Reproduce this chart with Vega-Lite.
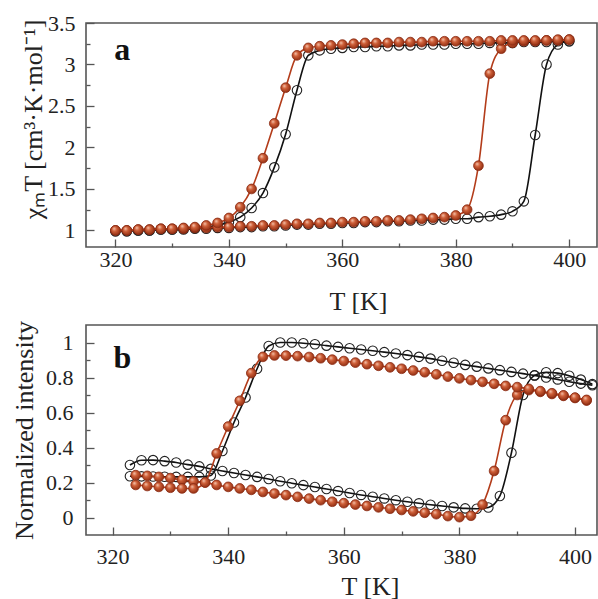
{
 "$schema": "https://vega.github.io/schema/vega-lite/v6.json",
 "padding": {"left": 10, "top": 11, "right": 0, "bottom": 0},
 "bounds": "flush",
 "spacing": 78,
 "background": "white",
 "config": {
  "view": {"stroke": "#555", "strokeWidth": 1.6},
  "axis": {"labelFont": "Liberation Serif", "titleFont": "Liberation Serif", "labelFontSize": 22, "titleFontSize": 26, "titleFontWeight": "normal", "labelColor": "#222", "titleColor": "#222", "domain": false, "grid": false, "tickColor": "#555", "tickWidth": 1.3, "labelFlush": false, "labelOverlap": false}
 },
 "datasets": {
  "a": [
   {"s":"k","b":"h","T":320,"v":0.99},{"s":"k","b":"h","T":322,"v":0.99},{"s":"k","b":"h","T":324,"v":1.0},{"s":"k","b":"h","T":326,"v":1.0},{"s":"k","b":"h","T":328,"v":1.01},{"s":"k","b":"h","T":330,"v":1.01},{"s":"k","b":"h","T":332,"v":1.01},{"s":"k","b":"h","T":334,"v":1.02},{"s":"k","b":"h","T":336,"v":1.02},{"s":"k","b":"h","T":338,"v":1.03},{"s":"k","b":"h","T":340,"v":1.03},{"s":"k","b":"h","T":342,"v":1.04},{"s":"k","b":"h","T":344,"v":1.04},{"s":"k","b":"h","T":346,"v":1.05},{"s":"k","b":"h","T":348,"v":1.05},{"s":"k","b":"h","T":350,"v":1.06},{"s":"k","b":"h","T":352,"v":1.07},{"s":"k","b":"h","T":354,"v":1.07},{"s":"k","b":"h","T":356,"v":1.08},{"s":"k","b":"h","T":358,"v":1.08},{"s":"k","b":"h","T":360,"v":1.09},{"s":"k","b":"h","T":362,"v":1.09},{"s":"k","b":"h","T":364,"v":1.1},{"s":"k","b":"h","T":366,"v":1.1},{"s":"k","b":"h","T":368,"v":1.11},{"s":"k","b":"h","T":370,"v":1.11},{"s":"k","b":"h","T":372,"v":1.12},{"s":"k","b":"h","T":374,"v":1.12},{"s":"k","b":"h","T":376,"v":1.13},{"s":"k","b":"h","T":378,"v":1.13},{"s":"k","b":"h","T":380,"v":1.14},{"s":"k","b":"h","T":382,"v":1.14},{"s":"k","b":"h","T":384,"v":1.16},{"s":"k","b":"h","T":386,"v":1.17},{"s":"k","b":"h","T":388,"v":1.19},{"s":"k","b":"h","T":390,"v":1.23},{"s":"k","b":"h","T":392,"v":1.35},{"s":"k","b":"h","T":394,"v":2.15},{"s":"k","b":"h","T":396,"v":3.0},{"s":"k","b":"h","T":398,"v":3.24},{"s":"k","b":"h","T":400,"v":3.28},
   {"s":"k","b":"c","T":400,"v":3.28},{"s":"k","b":"c","T":398,"v":3.28},{"s":"k","b":"c","T":396,"v":3.27},{"s":"k","b":"c","T":394,"v":3.27},{"s":"k","b":"c","T":392,"v":3.27},{"s":"k","b":"c","T":390,"v":3.26},{"s":"k","b":"c","T":388,"v":3.26},{"s":"k","b":"c","T":386,"v":3.26},{"s":"k","b":"c","T":384,"v":3.25},{"s":"k","b":"c","T":382,"v":3.25},{"s":"k","b":"c","T":380,"v":3.25},{"s":"k","b":"c","T":378,"v":3.24},{"s":"k","b":"c","T":376,"v":3.24},{"s":"k","b":"c","T":374,"v":3.24},{"s":"k","b":"c","T":372,"v":3.23},{"s":"k","b":"c","T":370,"v":3.23},{"s":"k","b":"c","T":368,"v":3.22},{"s":"k","b":"c","T":366,"v":3.22},{"s":"k","b":"c","T":364,"v":3.21},{"s":"k","b":"c","T":362,"v":3.21},{"s":"k","b":"c","T":360,"v":3.2},{"s":"k","b":"c","T":358,"v":3.19},{"s":"k","b":"c","T":356,"v":3.17},{"s":"k","b":"c","T":354,"v":3.11},{"s":"k","b":"c","T":352,"v":2.69},{"s":"k","b":"c","T":350,"v":2.16},{"s":"k","b":"c","T":348,"v":1.76},{"s":"k","b":"c","T":346,"v":1.45},{"s":"k","b":"c","T":344,"v":1.27},{"s":"k","b":"c","T":342,"v":1.16},{"s":"k","b":"c","T":340,"v":1.1},{"s":"k","b":"c","T":338,"v":1.06},{"s":"k","b":"c","T":336,"v":1.04},{"s":"k","b":"c","T":334,"v":1.03},{"s":"k","b":"c","T":332,"v":1.02},{"s":"k","b":"c","T":330,"v":1.01},{"s":"k","b":"c","T":328,"v":1.01},{"s":"k","b":"c","T":326,"v":1.0},{"s":"k","b":"c","T":324,"v":1.0},{"s":"k","b":"c","T":322,"v":0.99},{"s":"k","b":"c","T":320,"v":0.99},
   {"s":"r","b":"h","T":320,"v":1.0},{"s":"r","b":"h","T":322,"v":1.0},{"s":"r","b":"h","T":324,"v":1.01},{"s":"r","b":"h","T":326,"v":1.01},{"s":"r","b":"h","T":328,"v":1.02},{"s":"r","b":"h","T":330,"v":1.02},{"s":"r","b":"h","T":332,"v":1.02},{"s":"r","b":"h","T":334,"v":1.03},{"s":"r","b":"h","T":336,"v":1.03},{"s":"r","b":"h","T":338,"v":1.04},{"s":"r","b":"h","T":340,"v":1.04},{"s":"r","b":"h","T":342,"v":1.05},{"s":"r","b":"h","T":344,"v":1.05},{"s":"r","b":"h","T":346,"v":1.06},{"s":"r","b":"h","T":348,"v":1.06},{"s":"r","b":"h","T":350,"v":1.07},{"s":"r","b":"h","T":352,"v":1.08},{"s":"r","b":"h","T":354,"v":1.08},{"s":"r","b":"h","T":356,"v":1.09},{"s":"r","b":"h","T":358,"v":1.09},{"s":"r","b":"h","T":360,"v":1.1},{"s":"r","b":"h","T":362,"v":1.1},{"s":"r","b":"h","T":364,"v":1.11},{"s":"r","b":"h","T":366,"v":1.11},{"s":"r","b":"h","T":368,"v":1.12},{"s":"r","b":"h","T":370,"v":1.12},{"s":"r","b":"h","T":372,"v":1.13},{"s":"r","b":"h","T":374,"v":1.14},{"s":"r","b":"h","T":376,"v":1.15},{"s":"r","b":"h","T":378,"v":1.16},{"s":"r","b":"h","T":380,"v":1.18},{"s":"r","b":"h","T":382,"v":1.25},{"s":"r","b":"h","T":384,"v":1.78},{"s":"r","b":"h","T":386,"v":2.89},{"s":"r","b":"h","T":388,"v":3.19},{"s":"r","b":"h","T":390,"v":3.26},{"s":"r","b":"h","T":392,"v":3.28},{"s":"r","b":"h","T":394,"v":3.28},{"s":"r","b":"h","T":396,"v":3.29},{"s":"r","b":"h","T":398,"v":3.29},{"s":"r","b":"h","T":400,"v":3.3},
   {"s":"r","b":"c","T":400,"v":3.3},{"s":"r","b":"c","T":398,"v":3.3},{"s":"r","b":"c","T":396,"v":3.29},{"s":"r","b":"c","T":394,"v":3.29},{"s":"r","b":"c","T":392,"v":3.29},{"s":"r","b":"c","T":390,"v":3.29},{"s":"r","b":"c","T":388,"v":3.29},{"s":"r","b":"c","T":386,"v":3.28},{"s":"r","b":"c","T":384,"v":3.28},{"s":"r","b":"c","T":382,"v":3.28},{"s":"r","b":"c","T":380,"v":3.28},{"s":"r","b":"c","T":378,"v":3.28},{"s":"r","b":"c","T":376,"v":3.28},{"s":"r","b":"c","T":374,"v":3.27},{"s":"r","b":"c","T":372,"v":3.27},{"s":"r","b":"c","T":370,"v":3.27},{"s":"r","b":"c","T":368,"v":3.26},{"s":"r","b":"c","T":366,"v":3.26},{"s":"r","b":"c","T":364,"v":3.26},{"s":"r","b":"c","T":362,"v":3.25},{"s":"r","b":"c","T":360,"v":3.24},{"s":"r","b":"c","T":358,"v":3.23},{"s":"r","b":"c","T":356,"v":3.22},{"s":"r","b":"c","T":354,"v":3.2},{"s":"r","b":"c","T":352,"v":3.11},{"s":"r","b":"c","T":350,"v":2.72},{"s":"r","b":"c","T":348,"v":2.29},{"s":"r","b":"c","T":346,"v":1.87},{"s":"r","b":"c","T":344,"v":1.5},{"s":"r","b":"c","T":342,"v":1.28},{"s":"r","b":"c","T":340,"v":1.15},{"s":"r","b":"c","T":338,"v":1.09},{"s":"r","b":"c","T":336,"v":1.06},{"s":"r","b":"c","T":334,"v":1.04},{"s":"r","b":"c","T":332,"v":1.03},{"s":"r","b":"c","T":330,"v":1.02},{"s":"r","b":"c","T":328,"v":1.02},{"s":"r","b":"c","T":326,"v":1.01},{"s":"r","b":"c","T":324,"v":1.01},{"s":"r","b":"c","T":322,"v":1.0},{"s":"r","b":"c","T":320,"v":1.0}
  ],
  "b": [
   {"s":"k","b":"h","T":323,"v":0.3},{"s":"k","b":"h","T":325,"v":0.327},{"s":"k","b":"h","T":327,"v":0.328},{"s":"k","b":"h","T":329,"v":0.322},{"s":"k","b":"h","T":331,"v":0.314},{"s":"k","b":"h","T":333,"v":0.302},{"s":"k","b":"h","T":335,"v":0.292},{"s":"k","b":"h","T":337,"v":0.278},{"s":"k","b":"h","T":339,"v":0.266},{"s":"k","b":"h","T":341,"v":0.254},{"s":"k","b":"h","T":343,"v":0.243},{"s":"k","b":"h","T":345,"v":0.232},{"s":"k","b":"h","T":347,"v":0.22},{"s":"k","b":"h","T":349,"v":0.207},{"s":"k","b":"h","T":351,"v":0.196},{"s":"k","b":"h","T":353,"v":0.185},{"s":"k","b":"h","T":355,"v":0.174},{"s":"k","b":"h","T":357,"v":0.163},{"s":"k","b":"h","T":359,"v":0.151},{"s":"k","b":"h","T":361,"v":0.14},{"s":"k","b":"h","T":363,"v":0.129},{"s":"k","b":"h","T":365,"v":0.119},{"s":"k","b":"h","T":367,"v":0.109},{"s":"k","b":"h","T":369,"v":0.099},{"s":"k","b":"h","T":371,"v":0.09},{"s":"k","b":"h","T":373,"v":0.081},{"s":"k","b":"h","T":375,"v":0.073},{"s":"k","b":"h","T":377,"v":0.066},{"s":"k","b":"h","T":379,"v":0.058},{"s":"k","b":"h","T":381,"v":0.052},{"s":"k","b":"h","T":383,"v":0.05},{"s":"k","b":"h","T":385,"v":0.057},{"s":"k","b":"h","T":387,"v":0.123},{"s":"k","b":"h","T":389,"v":0.37},{"s":"k","b":"h","T":391,"v":0.7},{"s":"k","b":"h","T":393,"v":0.812},{"s":"k","b":"h","T":395,"v":0.83},{"s":"k","b":"h","T":397,"v":0.825},{"s":"k","b":"h","T":399,"v":0.81},{"s":"k","b":"h","T":401,"v":0.788},{"s":"k","b":"h","T":403,"v":0.762},
   {"s":"k","b":"c","T":403,"v":0.756},{"s":"k","b":"c","T":401,"v":0.765},{"s":"k","b":"c","T":399,"v":0.776},{"s":"k","b":"c","T":397,"v":0.789},{"s":"k","b":"c","T":395,"v":0.8},{"s":"k","b":"c","T":393,"v":0.812},{"s":"k","b":"c","T":391,"v":0.822},{"s":"k","b":"c","T":389,"v":0.832},{"s":"k","b":"c","T":387,"v":0.842},{"s":"k","b":"c","T":385,"v":0.852},{"s":"k","b":"c","T":383,"v":0.862},{"s":"k","b":"c","T":381,"v":0.872},{"s":"k","b":"c","T":379,"v":0.884},{"s":"k","b":"c","T":377,"v":0.896},{"s":"k","b":"c","T":375,"v":0.908},{"s":"k","b":"c","T":373,"v":0.918},{"s":"k","b":"c","T":371,"v":0.928},{"s":"k","b":"c","T":369,"v":0.937},{"s":"k","b":"c","T":367,"v":0.945},{"s":"k","b":"c","T":365,"v":0.953},{"s":"k","b":"c","T":363,"v":0.96},{"s":"k","b":"c","T":361,"v":0.967},{"s":"k","b":"c","T":359,"v":0.975},{"s":"k","b":"c","T":357,"v":0.982},{"s":"k","b":"c","T":355,"v":0.99},{"s":"k","b":"c","T":353,"v":0.996},{"s":"k","b":"c","T":351,"v":1.0},{"s":"k","b":"c","T":349,"v":1.0},{"s":"k","b":"c","T":347,"v":0.98},{"s":"k","b":"c","T":345,"v":0.85},{"s":"k","b":"c","T":343,"v":0.686},{"s":"k","b":"c","T":341,"v":0.543},{"s":"k","b":"c","T":339,"v":0.38},{"s":"k","b":"c","T":337,"v":0.24},{"s":"k","b":"c","T":335,"v":0.232},{"s":"k","b":"c","T":333,"v":0.232},{"s":"k","b":"c","T":331,"v":0.232},{"s":"k","b":"c","T":329,"v":0.233},{"s":"k","b":"c","T":327,"v":0.234},{"s":"k","b":"c","T":325,"v":0.235},{"s":"k","b":"c","T":323,"v":0.236},
   {"s":"r","b":"h","T":324,"v":0.242},{"s":"r","b":"h","T":326,"v":0.238},{"s":"r","b":"h","T":328,"v":0.232},{"s":"r","b":"h","T":330,"v":0.225},{"s":"r","b":"h","T":332,"v":0.215},{"s":"r","b":"h","T":334,"v":0.206},{"s":"r","b":"h","T":336,"v":0.2},{"s":"r","b":"h","T":338,"v":0.186},{"s":"r","b":"h","T":340,"v":0.175},{"s":"r","b":"h","T":342,"v":0.166},{"s":"r","b":"h","T":344,"v":0.158},{"s":"r","b":"h","T":346,"v":0.146},{"s":"r","b":"h","T":348,"v":0.137},{"s":"r","b":"h","T":350,"v":0.128},{"s":"r","b":"h","T":352,"v":0.118},{"s":"r","b":"h","T":354,"v":0.108},{"s":"r","b":"h","T":356,"v":0.099},{"s":"r","b":"h","T":358,"v":0.09},{"s":"r","b":"h","T":360,"v":0.082},{"s":"r","b":"h","T":362,"v":0.074},{"s":"r","b":"h","T":364,"v":0.066},{"s":"r","b":"h","T":366,"v":0.058},{"s":"r","b":"h","T":368,"v":0.05},{"s":"r","b":"h","T":370,"v":0.043},{"s":"r","b":"h","T":372,"v":0.035},{"s":"r","b":"h","T":374,"v":0.027},{"s":"r","b":"h","T":376,"v":0.019},{"s":"r","b":"h","T":378,"v":0.008},{"s":"r","b":"h","T":380,"v":0.002},{"s":"r","b":"h","T":382,"v":0.01},{"s":"r","b":"h","T":384,"v":0.074},{"s":"r","b":"h","T":386,"v":0.266},{"s":"r","b":"h","T":388,"v":0.556},{"s":"r","b":"h","T":390,"v":0.7},{"s":"r","b":"h","T":392,"v":0.728},{"s":"r","b":"h","T":394,"v":0.718},{"s":"r","b":"h","T":396,"v":0.706},{"s":"r","b":"h","T":398,"v":0.695},{"s":"r","b":"h","T":400,"v":0.683},{"s":"r","b":"h","T":402,"v":0.668},
   {"s":"r","b":"c","T":402,"v":0.672},{"s":"r","b":"c","T":400,"v":0.685},{"s":"r","b":"c","T":398,"v":0.698},{"s":"r","b":"c","T":396,"v":0.71},{"s":"r","b":"c","T":394,"v":0.722},{"s":"r","b":"c","T":392,"v":0.735},{"s":"r","b":"c","T":390,"v":0.745},{"s":"r","b":"c","T":388,"v":0.752},{"s":"r","b":"c","T":386,"v":0.764},{"s":"r","b":"c","T":384,"v":0.775},{"s":"r","b":"c","T":382,"v":0.785},{"s":"r","b":"c","T":380,"v":0.795},{"s":"r","b":"c","T":378,"v":0.805},{"s":"r","b":"c","T":376,"v":0.818},{"s":"r","b":"c","T":374,"v":0.83},{"s":"r","b":"c","T":372,"v":0.84},{"s":"r","b":"c","T":370,"v":0.85},{"s":"r","b":"c","T":368,"v":0.858},{"s":"r","b":"c","T":366,"v":0.867},{"s":"r","b":"c","T":364,"v":0.876},{"s":"r","b":"c","T":362,"v":0.885},{"s":"r","b":"c","T":360,"v":0.894},{"s":"r","b":"c","T":358,"v":0.902},{"s":"r","b":"c","T":356,"v":0.91},{"s":"r","b":"c","T":354,"v":0.917},{"s":"r","b":"c","T":352,"v":0.922},{"s":"r","b":"c","T":350,"v":0.925},{"s":"r","b":"c","T":348,"v":0.926},{"s":"r","b":"c","T":346,"v":0.918},{"s":"r","b":"c","T":344,"v":0.825},{"s":"r","b":"c","T":342,"v":0.667},{"s":"r","b":"c","T":340,"v":0.52},{"s":"r","b":"c","T":338,"v":0.366},{"s":"r","b":"c","T":336,"v":0.2},{"s":"r","b":"c","T":334,"v":0.166},{"s":"r","b":"c","T":332,"v":0.166},{"s":"r","b":"c","T":330,"v":0.17},{"s":"r","b":"c","T":328,"v":0.175},{"s":"r","b":"c","T":326,"v":0.18},{"s":"r","b":"c","T":324,"v":0.186}
  ]
 },
 "vconcat": [
  {
   "width": 511, "height": 224,
   "data": {"name": "a"},
   "encoding": {
    "x": {"field": "T", "type": "quantitative", "scale": {"domain": [314.8, 404.9], "nice": false, "zero": false},
     "axis": {"values": [320,330,340,350,360,370,380,390,400], "labelExpr": "datum.value % 20 == 0 ? datum.label : ''", "tickSize": {"condition": {"test": "datum.value % 20 != 0", "value": -4}, "value": -8}, "labelPadding": 10, "title": "T [K]", "titlePadding": 14, "titleX": 272}},
    "y": {"field": "v", "type": "quantitative", "scale": {"domain": [0.8, 3.5], "nice": false, "zero": false},
     "axis": {"values": [1,1.25,1.5,1.75,2,2.25,2.5,2.75,3,3.25,3.5], "labelExpr": "datum.value % 0.5 == 0 ? format(datum.value, '~g') : ''", "tickSize": {"condition": {"test": "datum.value % 0.5 != 0", "value": -4}, "value": -8}, "labelPadding": 19, "title": "χₘT [cm³·K·mol⁻¹]", "titlePadding": 1, "titleY": 96}}
   },
   "layer": [
    {"transform": [{"filter": "datum.s == 'k'"}], "mark": {"type": "line", "color": "#111", "strokeWidth": 1.6, "interpolate": "monotone"}, "encoding": {"detail": {"field": "b"}, "order": {"field": "T", "type": "quantitative"}}},
    {"transform": [{"filter": "datum.s == 'k'"}], "mark": {"type": "point", "filled": false, "color": "#222", "strokeWidth": 1.1, "size": 90, "opacity": 1}},
    {"transform": [{"filter": "datum.s == 'r'"}], "mark": {"type": "line", "color": "#b33c1a", "strokeWidth": 1.6, "interpolate": "monotone"}, "encoding": {"detail": {"field": "b"}, "order": {"field": "T", "type": "quantitative"}}},
    {"transform": [{"filter": "datum.s == 'r'"}], "mark": {"type": "point", "filled": true, "size": 95, "opacity": 1, "fill": {"gradient": "radial", "x1": 0.35, "y1": 0.3, "r1": 0, "x2": 0.45, "y2": 0.45, "r2": 0.6, "stops": [{"offset": 0, "color": "#f7cbb5"}, {"offset": 0.4, "color": "#cf5f38"}, {"offset": 1, "color": "#8c2b10"}]}, "stroke": "#8a2a12", "strokeWidth": 0.8}},
    {"transform": [{"filter": "datum.s == 'r' && datum.b == 'h' && datum.T == 320"}], "mark": {"type": "text", "font": "Liberation Serif", "fontWeight": "bold", "fontSize": 32, "align": "center", "baseline": "alphabetic", "fill": "#111"}, "encoding": {"x": {"datum": 321.2, "type": "quantitative"}, "y": {"datum": 3.06, "type": "quantitative"}, "text": {"value": "a"}}}
   ]
  },
  {
   "width": 511, "height": 210,
   "data": {"name": "b"},
   "encoding": {
    "x": {"field": "T", "type": "quantitative", "scale": {"domain": [315.4, 403.8], "nice": false, "zero": false},
     "axis": {"values": [320,330,340,350,360,370,380,390,400], "labelExpr": "datum.value % 20 == 0 ? datum.label : ''", "tickSize": {"condition": {"test": "datum.value % 20 != 0", "value": -4}, "value": -8}, "labelPadding": 19, "title": "T [K]", "titlePadding": 2, "titleX": 284}},
    "y": {"field": "v", "type": "quantitative", "scale": {"domain": [-0.1, 1.1], "nice": false, "zero": false},
     "axis": {"values": [0,0.1,0.2,0.3,0.4,0.5,0.6,0.7,0.8,0.9,1], "labelExpr": "round(datum.value*10) % 2 == 0 ? format(datum.value, '~g') : ''", "tickSize": {"condition": {"test": "round(datum.value*10) % 2 != 0", "value": -4}, "value": -8}, "labelPadding": 21, "title": "Normalized intensity", "titlePadding": 8}}
   },
   "layer": [
    {"transform": [{"filter": "datum.s == 'k'"}], "mark": {"type": "line", "color": "#111", "strokeWidth": 1.6, "interpolate": "monotone"}, "encoding": {"detail": {"field": "b"}, "order": {"field": "T", "type": "quantitative"}}},
    {"transform": [{"filter": "datum.s == 'k'"}], "mark": {"type": "point", "filled": false, "color": "#222", "strokeWidth": 1.1, "size": 90, "opacity": 1}},
    {"transform": [{"filter": "datum.s == 'r'"}], "mark": {"type": "line", "color": "#b33c1a", "strokeWidth": 1.6, "interpolate": "monotone"}, "encoding": {"detail": {"field": "b"}, "order": {"field": "T", "type": "quantitative"}}},
    {"transform": [{"filter": "datum.s == 'r'"}], "mark": {"type": "point", "filled": true, "size": 95, "opacity": 1, "fill": {"gradient": "radial", "x1": 0.35, "y1": 0.3, "r1": 0, "x2": 0.45, "y2": 0.45, "r2": 0.6, "stops": [{"offset": 0, "color": "#f7cbb5"}, {"offset": 0.4, "color": "#cf5f38"}, {"offset": 1, "color": "#8c2b10"}]}, "stroke": "#8a2a12", "strokeWidth": 0.8}},
    {"transform": [{"filter": "datum.s == 'r' && datum.b == 'h' && datum.T == 324"}], "mark": {"type": "text", "font": "Liberation Serif", "fontWeight": "bold", "fontSize": 32, "align": "center", "baseline": "alphabetic", "fill": "#111"}, "encoding": {"x": {"datum": 321.7, "type": "quantitative"}, "y": {"datum": 0.857, "type": "quantitative"}, "text": {"value": "b"}}}
   ]
  }
 ]
}
